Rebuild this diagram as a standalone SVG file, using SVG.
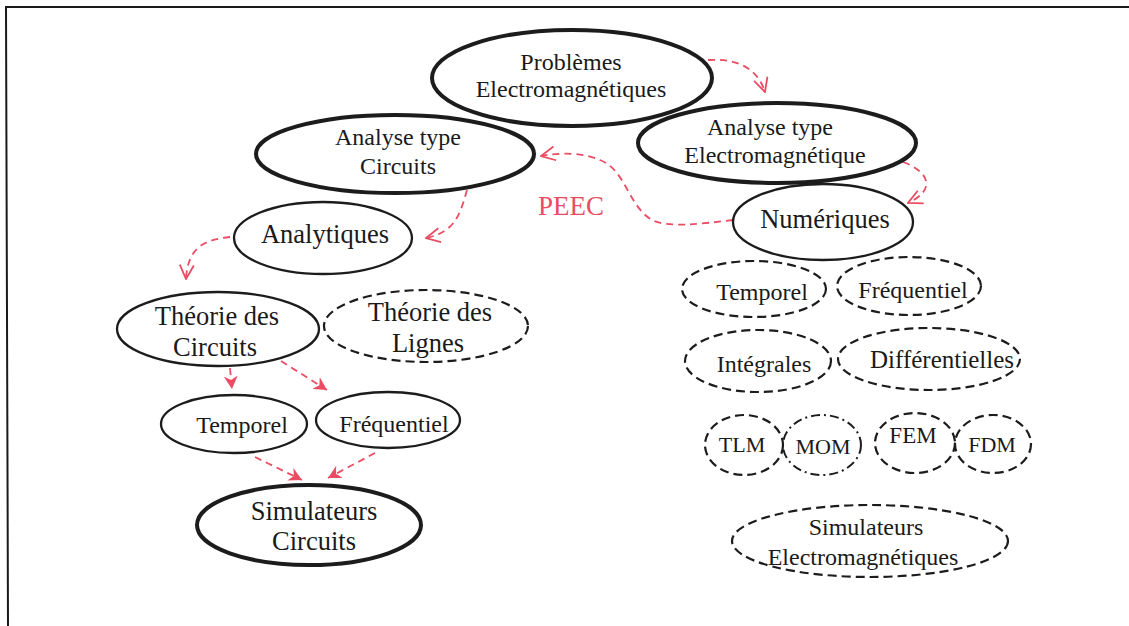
<svg xmlns="http://www.w3.org/2000/svg" width="1129" height="626" viewBox="0 0 1129 626">
  <style>
    .bg { fill: #ffffff; }
    .frame { stroke: #1a1a1a; stroke-width: 2; fill: none; }
    .thick { fill: none; stroke: #1c1c1c; stroke-width: 4; }
    .thin { fill: none; stroke: #1c1c1c; stroke-width: 2.3; }
    .dash { fill: none; stroke: #1c1c1c; stroke-width: 2.2; stroke-dasharray: 9 5; }
    .dashdot { fill: none; stroke: #1c1c1c; stroke-width: 2; stroke-dasharray: 9 4 2 4; }
    text { font-family: "Liberation Serif", "Times New Roman", serif; fill: #1a1a1a; text-anchor: middle; }
    .s24 { font-size: 24px; }
    .s26 { font-size: 26.5px; }
    .s22 { font-size: 22px; }
    .peec { font-size: 27px; fill: #ea4d63; text-anchor: start; }
    .link { fill: none; stroke: #ea4d63; stroke-width: 1.8; stroke-dasharray: 7 5; }
    .open { marker-end: url(#chevron); }
    .solid { marker-end: url(#head); }
  </style>
  <defs>
    <marker id="chevron" viewBox="0 0 16 16" refX="15" refY="8" markerWidth="16" markerHeight="16" markerUnits="userSpaceOnUse" orient="auto">
      <path d="M1,1 L15,8 L1,15" fill="none" stroke="#ea4d63" stroke-width="1.8"/>
    </marker>
    <marker id="head" viewBox="0 0 14 14" refX="13" refY="7" markerWidth="14" markerHeight="14" markerUnits="userSpaceOnUse" orient="auto">
      <path d="M0,0 L13,7 L0,14 L4,7 Z" fill="#ea4d63"/>
    </marker>
  </defs>

  <rect class="bg" x="0" y="0" width="1129" height="626"/>
  <path class="frame" d="M1129,7 L6,7 L8,626"/>

  <!-- connectors -->
  <g id="connectors">
    <path class="link open" d="M708,60 C740,58 758,70 765,92"/>
    <path class="link open" d="M903,162 C930,172 936,190 908,203"/>
    <path class="link open" d="M733,220 C700,224 668,228 652,220 C628,206 626,170 600,160 C585,153 562,152 541,156"/>
    <path class="link open" d="M467,190 C460,215 455,232 426,238"/>
    <path class="link open" d="M230,237 C205,240 188,246 186,279"/>
    <path class="link solid" d="M230,368 L232,389"/>
    <path class="link solid" d="M281,361 L327,390"/>
    <path class="link solid" d="M255,457 L302,480"/>
    <path class="link solid" d="M375,453 L328,478"/>
    <text class="peec" x="538" y="215">PEEC</text>
  </g>

  <!-- circuit branch -->
  <g id="problemes-em">
    <ellipse class="thick" cx="572" cy="78" rx="140" ry="48"/>
    <text class="s24" x="571" y="70">Problèmes</text>
    <text class="s24" x="571" y="97">Electromagnétiques</text>
  </g>
  <g id="analyse-circuits">
    <ellipse class="thick" cx="395" cy="154" rx="139" ry="39"/>
    <text class="s24" x="398" y="145">Analyse type</text>
    <text class="s24" x="398" y="174">Circuits</text>
  </g>
  <g id="analyse-em">
    <ellipse class="thick" cx="777" cy="143" rx="139" ry="40"/>
    <text class="s24" x="770" y="135">Analyse type</text>
    <text class="s24" x="775" y="163">Electromagnétique</text>
  </g>
  <g id="analytiques">
    <ellipse class="thin" cx="323" cy="238" rx="89" ry="36"/>
    <text class="s26" x="325" y="243">Analytiques</text>
  </g>
  <g id="numeriques">
    <ellipse class="thin" cx="823" cy="222" rx="90" ry="38"/>
    <text class="s26" x="825" y="228">Numériques</text>
  </g>
  <g id="theorie-circuits">
    <ellipse class="thin" cx="218" cy="329" rx="101" ry="37"/>
    <text class="s26" x="217" y="325">Théorie des</text>
    <text class="s26" x="215" y="356">Circuits</text>
  </g>
  <g id="theorie-lignes">
    <ellipse class="dash" cx="426" cy="326" rx="102" ry="36"/>
    <text class="s26" x="430" y="321">Théorie des</text>
    <text class="s26" x="428" y="352">Lignes</text>
  </g>
  <g id="temporel-circ">
    <ellipse class="thin" cx="234" cy="424" rx="73" ry="29"/>
    <text class="s24" x="242" y="433">Temporel</text>
  </g>
  <g id="frequentiel-circ">
    <ellipse class="thin" cx="388" cy="420" rx="72" ry="28"/>
    <text class="s24" x="394" y="432">Fréquentiel</text>
  </g>
  <g id="simulateurs-circuits">
    <ellipse class="thick" cx="309" cy="525" rx="112" ry="40"/>
    <text class="s26" x="314" y="520">Simulateurs</text>
    <text class="s26" x="314" y="550">Circuits</text>
  </g>

  <!-- electromagnetic branch -->
  <g id="temporel-em">
    <ellipse class="dash" cx="754" cy="289" rx="72" ry="28"/>
    <text class="s24" x="762" y="300">Temporel</text>
  </g>
  <g id="frequentiel-em">
    <ellipse class="dash" cx="909" cy="286" rx="72" ry="29"/>
    <text class="s24" x="913" y="298">Fréquentiel</text>
  </g>
  <g id="integrales">
    <ellipse class="dash" cx="758" cy="361" rx="73" ry="31"/>
    <text class="s24" x="764" y="372">Intégrales</text>
  </g>
  <g id="differentielles">
    <ellipse class="dash" cx="929" cy="359" rx="91" ry="31"/>
    <text x="942" y="368" style="font-size:25px">Différentielles</text>
  </g>
  <g id="tlm">
    <ellipse class="dash" cx="744" cy="445" rx="39" ry="30"/>
    <text class="s22" x="742" y="452">TLM</text>
  </g>
  <g id="mom">
    <ellipse class="dashdot" cx="822" cy="445" rx="39" ry="30"/>
    <text class="s22" x="823" y="454">MOM</text>
  </g>
  <g id="fem">
    <ellipse class="dash" cx="915" cy="443" rx="40" ry="30"/>
    <text x="913" y="443" style="font-size:23px">FEM</text>
  </g>
  <g id="fdm">
    <ellipse class="dash" cx="993" cy="444" rx="38" ry="29"/>
    <text class="s22" x="992" y="452">FDM</text>
  </g>
  <g id="simulateurs-em">
    <ellipse class="dash" cx="870" cy="541" rx="138" ry="36"/>
    <text class="s24" x="866" y="535">Simulateurs</text>
    <text class="s24" x="863" y="565">Electromagnétiques</text>
  </g>
</svg>
